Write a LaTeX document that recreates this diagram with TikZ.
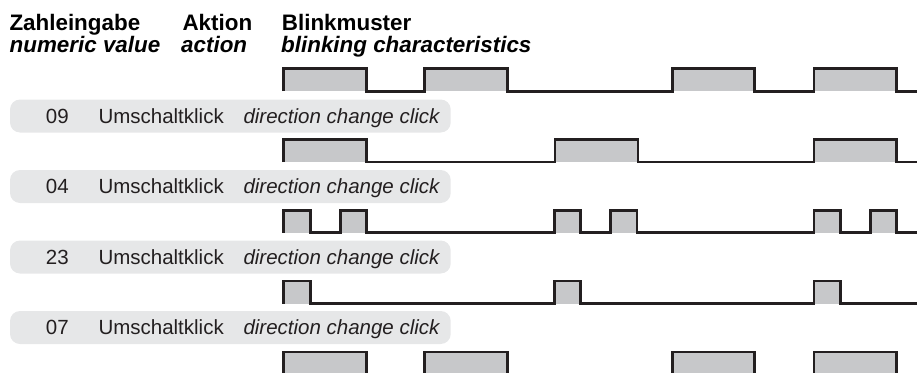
\documentclass[tikz,border=0pt]{standalone}
\usepackage{fontspec}
\setmainfont{Liberation Sans}
\definecolor{ink}{HTML}{231F20}
\definecolor{pulsefill}{HTML}{C7C8CA}
\definecolor{pillfill}{HTML}{E6E7E8}
\newcommand{\blinkrow}[2]{%
  \foreach \a/\b in {#2} {\fill[pulsefill] (\a,#1) rectangle (\b,#1+22.5);}
  \draw[wave] (283.3,#1+22.5) \foreach \a/\b in {#2} { -- (\a,#1+22.5) -- (\a,#1) -- (\b,#1) -- (\b,#1+22.5)} -- (925,#1+22.5);
}
\begin{document}
\begin{tikzpicture}[x=1pt,y=-1pt,
  hdr/.style={anchor=base west,inner sep=0,text=black,font=\fontsize{22.4}{26}\selectfont\bfseries},
  hdrit/.style={anchor=base west,inner sep=0,text=black,font=\fontsize{22.4}{26}\selectfont\bfseries\itshape},
  cell/.style={anchor=base west,inner sep=0,text=ink,font=\fontsize{20.5}{24}\selectfont},
  cellit/.style={anchor=base west,inner sep=0,text=ink,font=\fontsize{20.5}{24}\selectfont\itshape},
  pill/.style={fill=pillfill,rounded corners=10pt},
  wave/.style={draw=ink,line width=2.7pt,line join=miter}]
\useasboundingbox (0,0) rectangle (917,372);
\clip (0,0) rectangle (917,372);
% headers
\node[hdr] (h1) at (9.3,30) {Zahleingabe};
\node[hdrit] (h1e) at (9.5,52.5) {numeric value};
\node[hdr] (h2) at (182.3,30) {Aktion};
\node[hdrit] (h2e) at (181,52.5) {action};
\node[hdr] (h3) at (281.7,30) {Blinkmuster};
\node[hdrit] (h3e) at (281,52.5) {blinking characteristics};
% pills
\foreach \k/\num in {0/09,1/04,2/23,3/07} {
  \fill[pill] (10,99.5+70.5*\k) rectangle (450.7,132.5+70.5*\k);
  \node[cell] (n\k) at (45.7,123.3+70.5*\k) {\num};
  \node[cell] (a\k) at (98.3,123.3+70.5*\k) {Umschaltklick};
  \node[cellit] (e\k) at (243.3,123.3+70.5*\k) {direction change click};
}
% waveforms
\blinkrow{68.7}{283.3/366.4,424.5/507.7,672.3/754.7,814/896.4}
\blinkrow{139.5}{283.3/366.4,555/638,814/896.4}
\blinkrow{210.3}{283.3/310.3,340.3/366.4,554.8/580.7,610.8/637,814/840.3,870.6/896.4}
\blinkrow{281.1}{283.3/310.3,554.8/580.7,814/840.3}
\blinkrow{351.9}{283.3/366.4,424.5/507.7,672.3/754.7,814/896.4}
\end{tikzpicture}
\end{document}
